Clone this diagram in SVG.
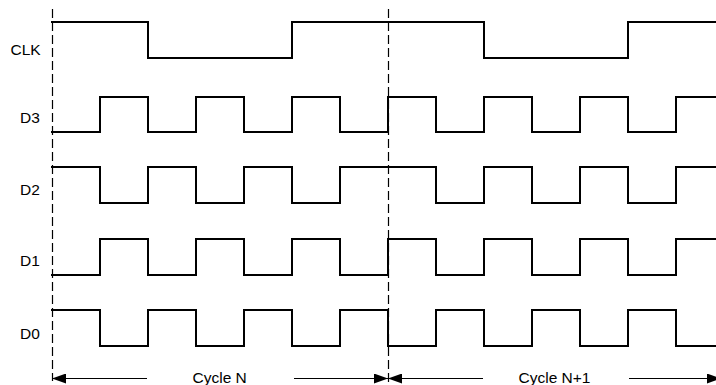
<svg xmlns="http://www.w3.org/2000/svg" width="716" height="385" viewBox="0 0 716 385">
  <style>
    .sig { fill: none; stroke: #000; stroke-width: 2; stroke-linejoin: miter; stroke-linecap: square; }
    .dash { fill: none; stroke: #000; stroke-width: 1.2; stroke-dasharray: 9 4; }
    .arr { fill: none; stroke: #000; stroke-width: 1.2; }
    .lbl { font-family: "Liberation Sans", Arial, sans-serif; font-size: 15.5px; fill: #000; }
  </style>
  <defs>
    <marker id="ah" markerUnits="userSpaceOnUse" markerWidth="14" markerHeight="10" refX="14" refY="5" orient="auto">
      <path d="M0,0 L14,5 L0,10 Z" fill="#000"/>
    </marker>
  </defs>
  <rect width="716" height="385" fill="#fff"/>
  <g id="guides">
    <line class="dash" x1="52.5" y1="9" x2="52.5" y2="381"/>
    <line class="dash" x1="388.5" y1="9" x2="388.5" y2="385"/>
  </g>
  <g id="clk">
    <text class="lbl" x="10.5" y="55">CLK</text>
    <path class="sig" d="M52,22 H148 V58 H292 V22 H484 V58 H628 V22 H716"/>
  </g>
  <g id="d3">
    <text class="lbl" x="20" y="123">D3</text>
    <path class="sig" d="M52,132 H100 V97 H148 V132 H196 V97 H244 V132 H292 V97 H340 V132 H388 V97 H436 V132 H484 V97 H532 V132 H580 V97 H628 V132 H676 V97 H716"/>
  </g>
  <g id="d2">
    <text class="lbl" x="20" y="195">D2</text>
    <path class="sig" d="M52,167 H100 V203 H148 V167 H196 V203 H244 V167 H292 V203 H340 V167 H436 V203 H484 V167 H532 V203 H580 V167 H628 V203 H676 V167 H716"/>
  </g>
  <g id="d1">
    <text class="lbl" x="20" y="266">D1</text>
    <path class="sig" d="M52,275 H100 V239 H148 V275 H196 V239 H244 V275 H292 V239 H340 V275 H388 V239 H436 V275 H484 V239 H532 V275 H580 V239 H628 V275 H676 V239 H716"/>
  </g>
  <g id="d0">
    <text class="lbl" x="20" y="339">D0</text>
    <path class="sig" d="M52,310 H100 V346 H148 V310 H196 V346 H244 V310 H292 V346 H340 V310 H388 V346 H436 V310 H484 V346 H532 V310 H580 V346 H628 V310 H676 V346 H716"/>
  </g>
  <g id="connectors">
    <line class="arr" x1="147" y1="378.5" x2="52" y2="378.5" marker-end="url(#ah)"/>
    <line class="arr" x1="294" y1="378.5" x2="388" y2="378.5" marker-end="url(#ah)"/>
    <line class="arr" x1="483" y1="378.5" x2="388" y2="378.5" marker-end="url(#ah)"/>
    <line class="arr" x1="629" y1="378.5" x2="721" y2="378.5" marker-end="url(#ah)"/>
  </g>
  <g id="cycles">
    <text class="lbl" x="192.5" y="383">Cycle N</text>
    <text class="lbl" x="518.5" y="383">Cycle N+1</text>
  </g>
</svg>
